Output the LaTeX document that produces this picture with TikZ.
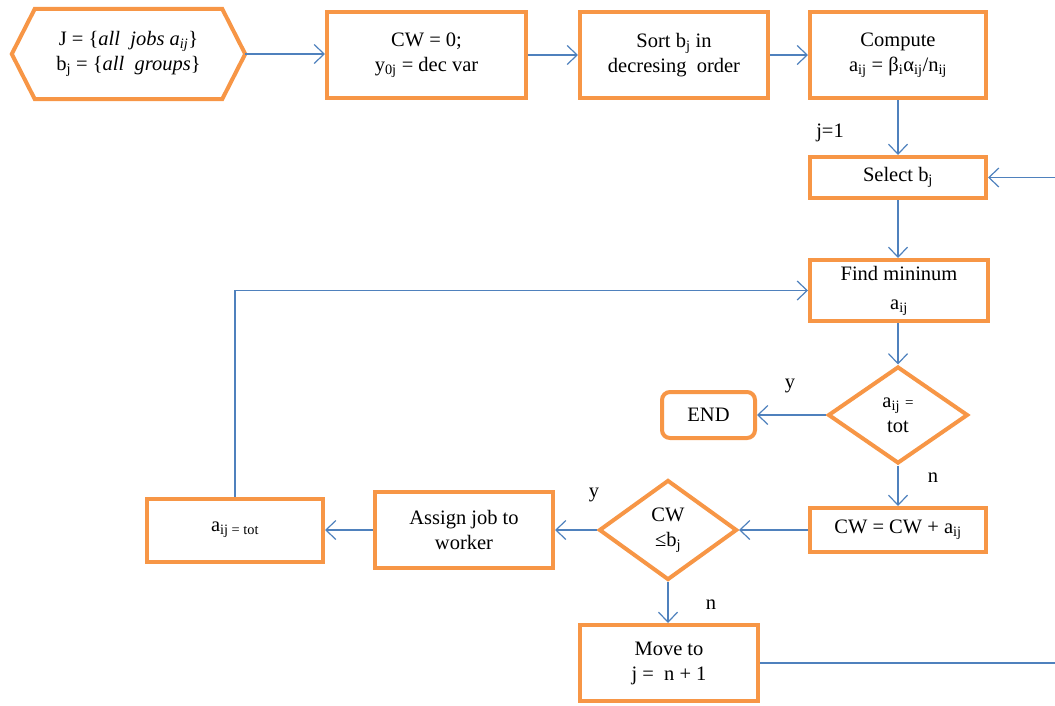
\documentclass[tikz,border=0pt]{standalone}
\usepackage{fontspec}
\setmainfont{Liberation Serif}
\usetikzlibrary{arrows.meta,calc,shapes.geometric}
\definecolor{boxorange}{HTML}{F79646}
\definecolor{flowblue}{HTML}{4F81BD}
\begin{document}
\begin{tikzpicture}[x=1pt,y=-1pt,
  txt/.style={font=\fontsize{20.5}{25}\selectfont},
  box/.style={txt,draw=boxorange,line width=4pt,fill=white,align=center,inner sep=0pt},
  decision/.style={txt,diamond,draw=boxorange,line width=4pt,fill=white,align=center,inner sep=0pt},
  flow/.style={draw=flowblue,line width=1.2pt,-{Straight Barb[length=10pt,width=19pt,line width=1.2pt]}},
  plain/.style={draw=flowblue,line width=1.2pt},
  lbl/.style={txt,inner sep=0pt}
]
\useasboundingbox (0,0) rectangle (1055,705);

% start hexagon: text node plus outline drawn from its anchors
\node[txt,align=center,minimum width=233pt,minimum height=90pt,inner sep=0pt] (start) at (128.5,54)
  {J = \{\textit{all\ \ jobs a}\textsubscript{\textit{ij}}\}\\
   b\textsubscript{j} = \{\textit{all\ \ groups}\}};
\draw[boxorange,line width=4pt,line join=miter]
  (start.west) -- ($(start.north west)+(23,0)$) -- ($(start.north east)+(-23,0)$)
  -- (start.east) -- ($(start.south east)+(-23,0)$) -- ($(start.south west)+(23,0)$) -- cycle;

% process boxes
\node[box,minimum width=199pt,minimum height=86pt] (init) at (426.5,55) {CW = 0;\\y\textsubscript{0j} = dec var};
\node[box,minimum width=188pt,minimum height=86pt] (sort) at (674,55) {Sort b\textsubscript{j} in\\decresing\ \ order};
\node[box,minimum width=176pt,minimum height=86pt] (comp) at (898,55) {Compute\\a\textsubscript{ij} = β\textsubscript{i}α\textsubscript{ij}/n\textsubscript{ij}};
\node[box,minimum width=176pt,minimum height=41pt] (select) at (898,177.5) {Select b\textsubscript{j}};
\node[box,minimum width=178pt,minimum height=61pt] (find) at (899,290.5) {Find mininum\\[4pt]a\textsubscript{ij}};
\node[decision,minimum width=140pt,minimum height=97pt] (dtot) at (898,415) {a\textsubscript{ij} {\fontsize{15}{15}\selectfont =}\\tot};
\node[box,rounded corners=8pt,minimum width=93pt,minimum height=46pt] (end) at (708.5,415) {END};
\node[box,minimum width=176pt,minimum height=44pt] (cwadd) at (898,530) {CW = CW + a\textsubscript{ij}};
\node[decision,minimum width=138pt,minimum height=100pt] (dcw) at (668,530) {CW\\≤b\textsubscript{j}};
\node[box,minimum width=178pt,minimum height=76pt] (assign) at (464,530) {Assign job to\\worker};
\node[box,minimum width=176pt,minimum height=63pt] (settot) at (235,530) {a\textsubscript{ij = tot}};
\node[box,minimum width=178pt,minimum height=76pt] (move) at (669,663) {Move to\\j =\ \ n + 1};

% free ends of the loop back to the selection step
\coordinate (loopin) at (1055,177.5);
\coordinate (loopout) at (1055,663);

% connectors
\draw[flow] (start.east) -- (start.east -| init.west);
\draw[flow] (init.east) -- (sort.west);
\draw[flow] (sort.east) -- (comp.west);
\draw[flow] (comp.south) -- (select.north);
\draw[flow] (select.south) -- (select.south |- find.north);
\draw[flow] (find.south -| dtot.north) -- (dtot.north);
\draw[flow] (dtot.west) -- (end.east);
\draw[flow] (dtot.south) -- (cwadd.north -| dtot.south);
\draw[flow] (cwadd.west) -- (dcw.east);
\draw[flow] (dcw.west) -- (assign.east);
\draw[flow] (assign.west) -- (settot.east);
\draw[flow] (dcw.south) -- (move.north -| dcw.south);
\draw[flow] (settot.north) |- (find.west);
\draw[plain] (move.east) -- (loopout);
\draw[flow] (loopin) -- (select.east);

% branch labels
\node[lbl] (lj) at (830,133) {j=1};
\node[lbl] (ly1) at (790,386) {y};
\node[lbl] (ln1) at (933,478) {n};
\node[lbl] (ly2) at (594,495) {y};
\node[lbl] (ln2) at (711,605) {n};
\end{tikzpicture}
\end{document}
